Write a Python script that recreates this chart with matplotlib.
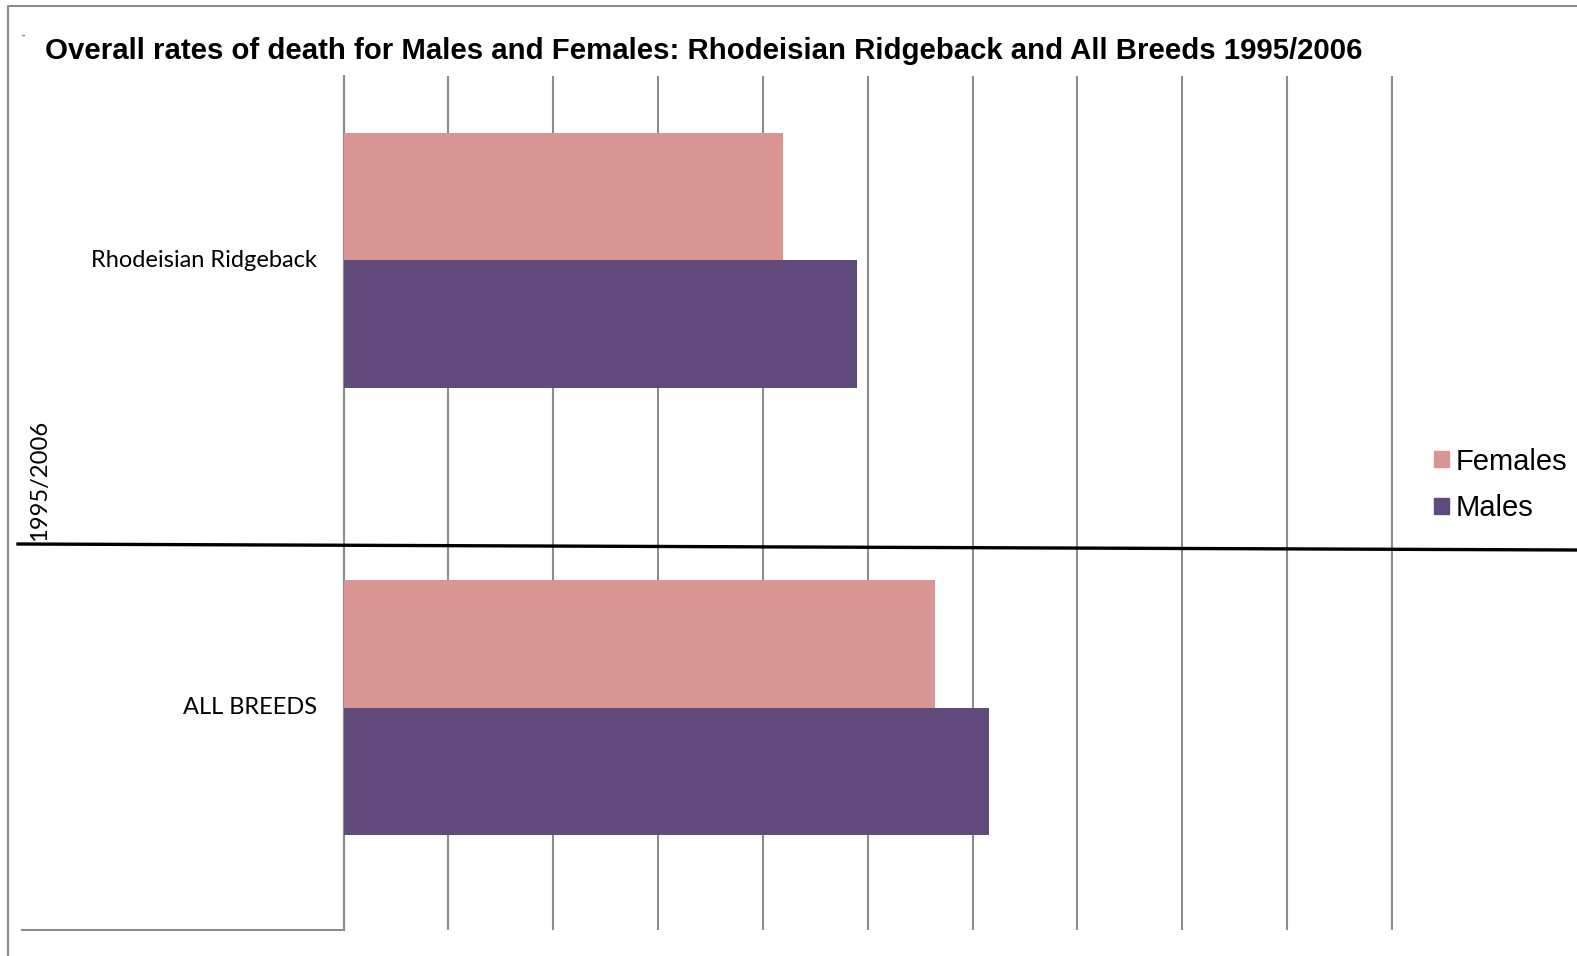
import numpy as np
import matplotlib
matplotlib.use("Agg")
import matplotlib.pyplot as plt
from matplotlib.lines import Line2D
from matplotlib.patches import Patch

# datos
categorias = ["Rhodeisian Ridgeback", "ALL BREEDS"]
hembras = [4.19, 5.64]
machos = [4.90, 6.16]
grupo = "1995/2006"
series = ["Females", "Males"]
col_h = "#D99594"
col_m = "#604A7B"

W, H = 1577, 956
fig = plt.figure(figsize=(W / 100, H / 100), dpi=100)

def fx(px):
    return px / W

def fy(py):
    return 1 - py / H

# area del grafico
left, right, top, bottom = 343.5, 1393, 76, 930
ax = fig.add_axes([fx(left), fy(bottom), fx(right) - fx(left), fy(top) - fy(bottom)])

y = np.arange(len(categorias))
h = 0.2846
ax.barh(y - h / 2, hembras, height=h, color=col_h, zorder=3)
ax.barh(y + h / 2, machos, height=h, color=col_m, zorder=3)

ax.set_xlim(0, 10.01)
ax.set_ylim(1.496, -0.411)
ax.set_xticks(range(11))
ax.set_yticks([])
ax.tick_params(axis="x", length=0, labelbottom=False)
ax.grid(axis="x", color="#8c8c8c", lw=1.5, zorder=0)
for s in ["top", "right", "bottom"]:
    ax.spines[s].set_visible(False)
ax.spines["left"].set_color("#8c8c8c")
ax.spines["left"].set_linewidth(1.5)

# etiquetas de categoria
for yi, c in zip(y, categorias):
    ax.text(-0.25, yi, c, ha="right", va="center", fontsize=17.0, family="Lato")

fig.text(fx(40), fy(541), grupo, rotation=90, ha="center", va="bottom",
         fontsize=17.1, family="Lato")

# titulo
fig.text(fx(45), fy(51), "Overall rates of death for Males and Females: Rhodeisian Ridgeback and All Breeds 1995/2006",
         ha="left", va="center", fontsize=21.15, fontweight="bold", family="Liberation Sans")

# leyenda
handles = [Patch(color=col_h), Patch(color=col_m)]
fig.legend(handles, series, loc="center left", bbox_to_anchor=(fx(1434), fy(485)),
           frameon=False, prop={"family": "Liberation Sans", "size": 21},
           borderpad=0, borderaxespad=0,
           handlelength=0.5, handleheight=0.5, handletextpad=0.25, labelspacing=0.65)

# lineas extra
fig.add_artist(Line2D([fx(22), fx(344)], [fy(930), fy(930)], color="#8c8c8c", lw=1.5))
fig.add_artist(Line2D([fx(18), fx(1577)], [fy(544), fy(550)], color="black", lw=2.4))
fig.add_artist(Line2D([fx(8), fx(8), fx(1577)], [fy(956), fy(6), fy(6)], color="#8c8c8c", lw=1.5))
fig.add_artist(Line2D([fx(22), fx(24)], [fy(35), fy(35)], color="#8c8c8c", lw=1))

fig.savefig("out.png", dpi=100)
